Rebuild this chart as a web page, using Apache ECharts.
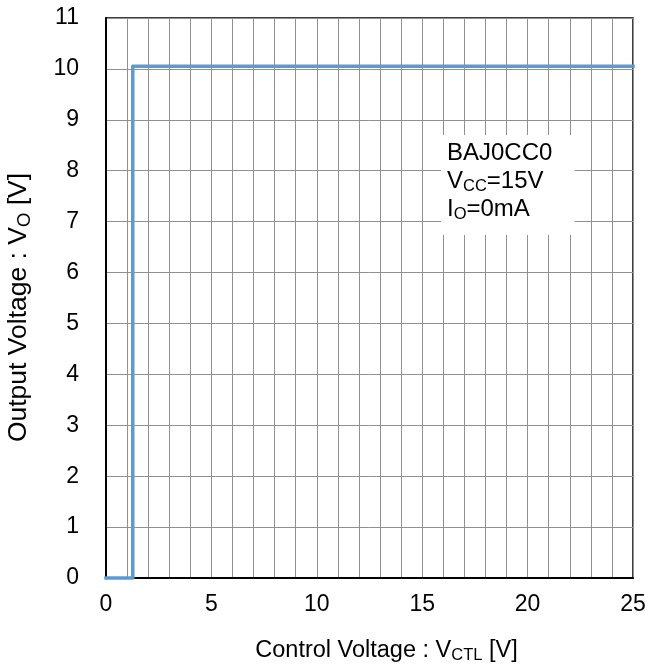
<!DOCTYPE html>
<html>
<head>
<meta charset="utf-8">
<script src="https://cdn.jsdelivr.net/npm/echarts@6/dist/echarts.min.js"></script>
<style>
html,body{margin:0;padding:0;background:#fff;}
#chart{width:645px;height:671px;}
</style>
</head>
<body>
<div id="chart"></div>
<script>
// Data
var controlVoltage = [0, 1.27, 1.27, 25];
var outputVoltage = [0, 0, 10.05, 10.05];
var xTickLabels = ['0', '5', '10', '15', '20', '25'];
var yTickLabels = ['0','1','2','3','4','5','6','7','8','9','10','11'];
var annotationLines = ['BAJ0CC0', 'V{sub|CC}=15V', 'I{sub|O}=0mA'];

var FONT = "'Liberation Sans', Arial, sans-serif";
var chart = echarts.init(document.getElementById('chart'), null, {renderer: 'canvas'});

var subStyle = {fontSize: 16.5, fontFamily: FONT, color: '#000', verticalAlign: 'bottom', padding: [10, 0, 0, 0]};
var subStyleY = {fontSize: 18.5, fontFamily: FONT, color: '#000', verticalAlign: 'bottom', padding: [11, 0, 0, 0]};

var option = {
  backgroundColor: '#fff',
  animation: false,
  grid: {left: 106, top: 18, right: 12, bottom: 93, containLabel: false, outerBoundsMode: 'none',
    show: true, borderColor: '#000', borderWidth: 1.5, backgroundColor: 'transparent'},
  xAxis: {
    type: 'value', min: 0, max: 25, interval: 5,
    name: 'Control Voltage : V{sub|CTL} [V]',
    nameLocation: 'middle', nameGap: 59,
    nameTextStyle: {fontSize: 23.5, fontFamily: FONT, color: '#000', padding: [0, 0, 0, 34], rich: {sub: subStyle}},
    axisLine: {show: true, lineStyle: {color: '#000', width: 2}},
    axisTick: {show: false},
    minorTick: {show: false, splitNumber: 5},
    splitLine: {show: true, lineStyle: {color: '#909090', width: 1}},
    minorSplitLine: {show: true, lineStyle: {color: '#909090', width: 1}},
    axisLabel: {fontSize: 23, fontFamily: FONT, color: '#000', margin: 15,
      formatter: function (v) { var s = String(v); return xTickLabels.indexOf(s) >= 0 ? s : ''; }}
  },
  yAxis: {
    type: 'value', min: 0, max: 11, interval: 1,
    name: 'Output Voltage : V{sub|O} [V]',
    nameLocation: 'middle', nameGap: 72, nameRotate: 90,
    nameTextStyle: {fontSize: 26.5, fontFamily: FONT, color: '#000', padding: [0, 19, 0, 0], rich: {sub: subStyleY}},
    axisLine: {show: true, lineStyle: {color: '#000', width: 2}},
    axisTick: {show: false},
    splitLine: {show: true, lineStyle: {color: '#909090', width: 1}},
    axisLabel: {fontSize: 23, fontFamily: FONT, color: '#000', margin: 27,
      formatter: function (v) { var s = String(v); return yTickLabels.indexOf(s) >= 0 ? s : ''; }}
  },
  series: [{
    type: 'line',
    data: controlVoltage.map(function (x, i) { return [x, outputVoltage[i]]; }),
    showSymbol: false,
    clip: false,
    z: 10,
    lineStyle: {color: '#5B9BD5', width: 3.5, join: 'round', cap: 'square'}
  }],
  graphic: [{
    type: 'text',
    left: 441, top: 135, z: 100,
    style: {
      text: annotationLines.join('\n'),
      fontSize: 24, fontFamily: FONT, fill: '#000',
      lineHeight: 28,
      backgroundColor: '#fff',
      padding: [4, 22, 12, 6],
      rich: {sub: {fontSize: 16.5, fontFamily: FONT, fill: '#000', verticalAlign: 'bottom', padding: [9, 0, 0, 0]}}
    }
  }]
};
chart.setOption(option);
</script>
</body>
</html>
